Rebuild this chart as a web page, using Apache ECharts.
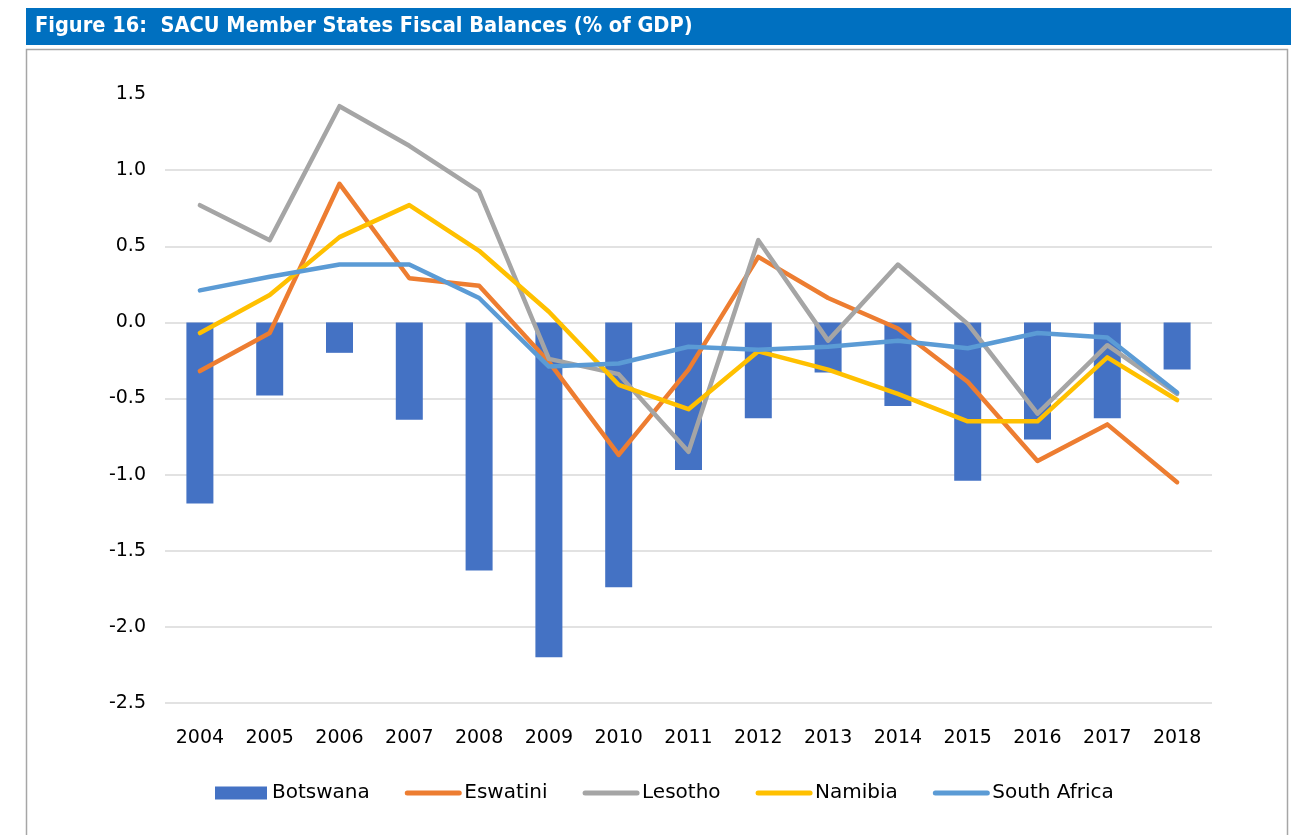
<!DOCTYPE html>
<html lang="en">
<head>
    <meta charset="UTF-8">
    <title>SACU Fiscal Balances</title>
    <script src="https://cdn.jsdelivr.net/npm/echarts@6/dist/echarts.min.js"></script>
    <style>
        body { margin: 0; background: #fff; }
    </style>
</head>
<body>

<div id="main" style="width: 1294px;height:835px;"></div>
<script type="text/javascript">
    // data
    var years = ['2004', '2005', '2006', '2007', '2008', '2009', '2010', '2011',
                 '2012', '2013', '2014', '2015', '2016', '2017', '2018'];
    var botswana = [-1.19, -0.48, -0.20, -0.64, -1.63, -2.20, -1.74, -0.97,
                    -0.63, -0.33, -0.55, -1.04, -0.77, -0.63, -0.31];
    var eswatini = [-0.32, -0.07, 0.91, 0.29, 0.24, -0.26, -0.87, -0.31,
                    0.43, 0.16, -0.04, -0.39, -0.91, -0.67, -1.05];
    var lesotho = [0.77, 0.54, 1.42, 1.16, 0.86, -0.24, -0.34, -0.85,
                   0.54, -0.12, 0.38, -0.01, -0.60, -0.15, -0.47];
    var namibia = [-0.07, 0.18, 0.56, 0.77, 0.47, 0.07, -0.41, -0.57,
                   -0.19, -0.31, -0.47, -0.65, -0.65, -0.23, -0.51];
    var southAfrica = [0.21, 0.30, 0.38, 0.38, 0.16, -0.29, -0.27, -0.16,
                       -0.18, -0.16, -0.12, -0.17, -0.07, -0.10, -0.46];

    var font = 'DejaVu Sans';
    var myChart = echarts.init(document.getElementById('main'));

    // every gridline is light grey except the top one (1.5)
    var gridColors = [];
    for (var i = 0; i < 8; i++) gridColors.push('#D9D9D9');
    gridColors.push('rgba(0,0,0,0)');

    function lineSeries(name, data, color) {
        return {
            name: name,
            type: 'line',
            data: data,
            symbol: 'none',
            lineStyle: { color: color, width: 4.5, cap: 'round', join: 'round' },
            itemStyle: { color: color }
        };
    }

    // legend entry for a line: plain thick line, no marker
    function lineLegend(name) {
        return { name: name, itemStyle: { opacity: 0 }, lineStyle: { width: 5, cap: 'round' } };
    }

    myChart.setOption({
        animation: false,
        graphic: [
            { type: 'rect', shape: { x: 26, y: 8, width: 1265, height: 37 },
              style: { fill: '#0070C0' } },
            { type: 'text', x: 35, y: 26,
              style: { text: 'Figure 16:  SACU Member States Fiscal Balances (% of GDP)',
                       fill: '#fff', verticalAlign: 'middle',
                       font: 'bold 21.6px "DejaVu Sans Condensed", "DejaVu Sans"' } },
            { type: 'rect', shape: { x: 26.5, y: 49.5, width: 1261, height: 800 },
              style: { fill: 'none', stroke: '#A6A6A6', lineWidth: 1.5 } }
        ],
        grid: { left: 165, right: 82, top: 94, bottom: 132 },
        legend: {
            left: 210,
            top: 778,
            itemWidth: 52,
            itemHeight: 13,
            itemGap: 35,
            textStyle: { fontFamily: font, fontSize: 20, color: '#000' },
            data: [
                { name: 'Botswana', icon: 'rect' },
                lineLegend('Eswatini'),
                lineLegend('Lesotho'),
                lineLegend('Namibia'),
                lineLegend('South Africa')
            ]
        },
        xAxis: {
            type: 'category',
            data: years,
            axisLine: { show: false },
            axisTick: { show: false },
            axisLabel: { fontFamily: font, fontSize: 19, color: '#000', margin: 26, interval: 0 }
        },
        yAxis: {
            type: 'value',
            min: -2.5,
            max: 1.5,
            interval: 0.5,
            axisLine: { show: false },
            axisTick: { show: false },
            axisLabel: {
                fontFamily: font, fontSize: 19, color: '#000', margin: 19,
                formatter: function (v) { return v.toFixed(1); }
            },
            splitLine: { lineStyle: { color: gridColors, width: 1.5 } }
        },
        series: [
            {
                name: 'Botswana',
                type: 'bar',
                data: botswana,
                barWidth: 27,
                itemStyle: { color: '#4472C4' }
            },
            lineSeries('Eswatini', eswatini, '#ED7D31'),
            lineSeries('Lesotho', lesotho, '#A5A5A5'),
            lineSeries('Namibia', namibia, '#FFC000'),
            lineSeries('South Africa', southAfrica, '#5B9BD5')
        ]
    });
</script>

</body>
</html>
